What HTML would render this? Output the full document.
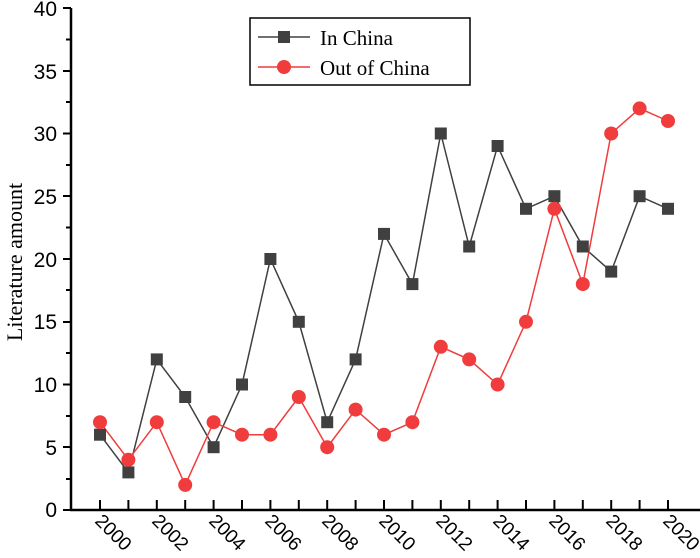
<!DOCTYPE html>
<html><head><style>body{margin:0;background:#fff}svg{display:block}</style></head><body>
<svg width="700" height="558" xmlns="http://www.w3.org/2000/svg" font-family="Liberation Serif, serif">
<g stroke="#000" stroke-width="2">
<line x1="63" y1="510" x2="71" y2="510"/><line x1="63" y1="447" x2="71" y2="447"/><line x1="63" y1="384.5" x2="71" y2="384.5"/><line x1="63" y1="322" x2="71" y2="322"/><line x1="63" y1="259" x2="71" y2="259"/><line x1="63" y1="196" x2="71" y2="196"/><line x1="63" y1="133.5" x2="71" y2="133.5"/><line x1="63" y1="71" x2="71" y2="71"/><line x1="63" y1="8" x2="71" y2="8"/>
<line x1="66" y1="479" x2="71" y2="479"/><line x1="66" y1="416" x2="71" y2="416"/><line x1="66" y1="353" x2="71" y2="353"/><line x1="66" y1="290" x2="71" y2="290"/><line x1="66" y1="227.5" x2="71" y2="227.5"/><line x1="66" y1="165" x2="71" y2="165"/><line x1="66" y1="102" x2="71" y2="102"/><line x1="66" y1="39.5" x2="71" y2="39.5"/>
<line x1="100" y1="500" x2="100" y2="510"/><line x1="128.4" y1="500" x2="128.4" y2="510"/><line x1="156.8" y1="500" x2="156.8" y2="510"/><line x1="185.2" y1="500" x2="185.2" y2="510"/><line x1="213.6" y1="500" x2="213.6" y2="510"/><line x1="242" y1="500" x2="242" y2="510"/><line x1="270.4" y1="500" x2="270.4" y2="510"/><line x1="298.8" y1="500" x2="298.8" y2="510"/><line x1="327.2" y1="500" x2="327.2" y2="510"/><line x1="355.6" y1="500" x2="355.6" y2="510"/><line x1="384" y1="500" x2="384" y2="510"/><line x1="412.4" y1="500" x2="412.4" y2="510"/><line x1="440.8" y1="500" x2="440.8" y2="510"/><line x1="469.2" y1="500" x2="469.2" y2="510"/><line x1="497.6" y1="500" x2="497.6" y2="510"/><line x1="526" y1="500" x2="526" y2="510"/><line x1="554.4" y1="500" x2="554.4" y2="510"/><line x1="582.8" y1="500" x2="582.8" y2="510"/><line x1="611.2" y1="500" x2="611.2" y2="510"/><line x1="639.6" y1="500" x2="639.6" y2="510"/><line x1="668" y1="500" x2="668" y2="510"/>
</g>
<line x1="71" y1="8" x2="71" y2="511" stroke="#000" stroke-width="2.5"/>
<line x1="70" y1="510" x2="700" y2="510" stroke="#000" stroke-width="2.5"/>
<g font-size="21" text-anchor="end" fill="#000" font-family="Liberation Sans, sans-serif">
<text x="57" y="517">0</text><text x="57" y="455">5</text><text x="57" y="392">10</text><text x="57" y="329">15</text><text x="57" y="267">20</text><text x="57" y="204">25</text><text x="57" y="141">30</text><text x="57" y="79">35</text><text x="57" y="16">40</text>
</g>
<text transform="translate(22,262) rotate(-90)" font-size="22" text-anchor="middle">Literature amount</text>
<g font-size="19" font-family="Liberation Sans, sans-serif">
<text transform="translate(94,522) rotate(45)">2000</text>
<text transform="translate(151,522) rotate(45)">2002</text>
<text transform="translate(208,522) rotate(45)">2004</text>
<text transform="translate(264,522) rotate(45)">2006</text>
<text transform="translate(321,522) rotate(45)">2008</text>
<text transform="translate(378,522) rotate(45)">2010</text>
<text transform="translate(435,522) rotate(45)">2012</text>
<text transform="translate(492,522) rotate(45)">2014</text>
<text transform="translate(548,522) rotate(45)">2016</text>
<text transform="translate(605,522) rotate(45)">2018</text>
<text transform="translate(662,522) rotate(45)">2020</text>
</g>
<polyline fill="none" stroke="#404040" stroke-width="1.5" points="100,434.7 128.4,472.4 156.8,359.4 185.2,397 213.6,447.2 242,384.5 270.4,259 298.8,321.8 327.2,422.2 355.6,359.4 384,233.9 412.4,284.1 440.8,133.5 469.2,246.5 497.6,146 526,208.8 554.4,196.2 582.8,246.5 611.2,271.6 639.6,196.2 668,208.8"/>
<polyline fill="none" stroke="#f03c3c" stroke-width="1.5" points="100,422.2 128.4,459.8 156.8,422.2 185.2,484.9 213.6,422.2 242,434.7 270.4,434.7 298.8,397 327.2,447.2 355.6,409.6 384,434.7 412.4,422.2 440.8,346.8 469.2,359.4 497.6,384.5 526,321.8 554.4,208.8 582.8,284.1 611.2,133.5 639.6,108.4 668,121"/>
<g fill="#404040">
<rect x="94" y="428.7" width="12" height="12"/><rect x="122.4" y="466.4" width="12" height="12"/><rect x="150.8" y="353.4" width="12" height="12"/><rect x="179.2" y="391" width="12" height="12"/><rect x="207.6" y="441.2" width="12" height="12"/><rect x="236" y="378.5" width="12" height="12"/><rect x="264.4" y="253" width="12" height="12"/><rect x="292.8" y="315.8" width="12" height="12"/><rect x="321.2" y="416.2" width="12" height="12"/><rect x="349.6" y="353.4" width="12" height="12"/><rect x="378" y="227.9" width="12" height="12"/><rect x="406.4" y="278.1" width="12" height="12"/><rect x="434.8" y="127.5" width="12" height="12"/><rect x="463.2" y="240.5" width="12" height="12"/><rect x="491.6" y="140" width="12" height="12"/><rect x="520" y="202.8" width="12" height="12"/><rect x="548.4" y="190.2" width="12" height="12"/><rect x="576.8" y="240.5" width="12" height="12"/><rect x="605.2" y="265.6" width="12" height="12"/><rect x="633.6" y="190.2" width="12" height="12"/><rect x="662" y="202.8" width="12" height="12"/>
</g>
<g fill="#f03c3c">
<circle cx="100" cy="422.2" r="7"/><circle cx="128.4" cy="459.8" r="7"/><circle cx="156.8" cy="422.2" r="7"/><circle cx="185.2" cy="484.9" r="7"/><circle cx="213.6" cy="422.2" r="7"/><circle cx="242" cy="434.7" r="7"/><circle cx="270.4" cy="434.7" r="7"/><circle cx="298.8" cy="397" r="7"/><circle cx="327.2" cy="447.2" r="7"/><circle cx="355.6" cy="409.6" r="7"/><circle cx="384" cy="434.7" r="7"/><circle cx="412.4" cy="422.2" r="7"/><circle cx="440.8" cy="346.8" r="7"/><circle cx="469.2" cy="359.4" r="7"/><circle cx="497.6" cy="384.5" r="7"/><circle cx="526" cy="321.8" r="7"/><circle cx="554.4" cy="208.8" r="7"/><circle cx="582.8" cy="284.1" r="7"/><circle cx="611.2" cy="133.5" r="7"/><circle cx="639.6" cy="108.4" r="7"/><circle cx="668" cy="121" r="7"/>
</g>
<rect x="250" y="18" width="220" height="67" fill="#fff" stroke="#000" stroke-width="1.5"/>
<line x1="258" y1="37" x2="310" y2="37" stroke="#404040" stroke-width="1.5"/>
<rect x="278" y="31" width="12" height="12" fill="#404040"/>
<text x="320" y="45" font-size="21">In China</text>
<line x1="258" y1="67" x2="310" y2="67" stroke="#f03c3c" stroke-width="1.5"/>
<circle cx="284" cy="67" r="7" fill="#f03c3c"/>
<text x="320" y="75" font-size="21">Out of China</text>
</svg>
</body></html>
